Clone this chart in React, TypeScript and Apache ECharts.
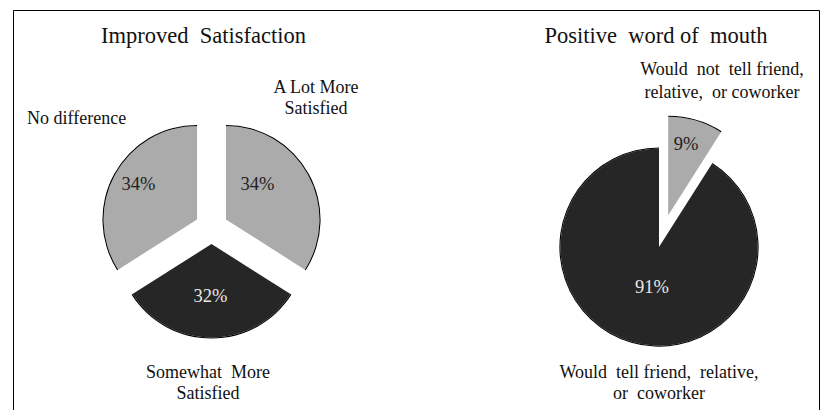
import React, { useEffect, useRef } from "react";
import * as echarts from "echarts";

const satisfactionCategories = ["A Lot More Satisfied", "Somewhat More Satisfied", "No difference"];
const satisfactionValues = [34, 32, 34];
const satisfactionLabels = ["A Lot More\nSatisfied", "Somewhat  More\nSatisfied", "No difference"];

const wordCategories = ["Would not tell friend, relative, or coworker", "Would tell friend, relative, or coworker"];
const wordValues = [9, 91];
const wordLabels = ["Would  not  tell friend,\nrelative,  or coworker", "Would  tell friend,  relative,\nor  coworker"];

const titles = ["Improved  Satisfaction", "Positive  word of  mouth"];

const GRAY = "#ababab";
const DARK = "#262626";
const FONT = "Liberation Serif";

export default function App() {
  const ref = useRef<HTMLDivElement>(null);
  useEffect(() => {
    if (!ref.current) return;
    const chart = echarts.init(ref.current, null, { renderer: "svg" });

    const leftColors = [GRAY, DARK, GRAY];
    const rightColors = [GRAY, DARK];

    const mk = (names: string[], values: number[], colors: string[]) =>
      names.map((n, i) => ({
        name: n,
        value: values[i],
        selected: true,
        itemStyle: { color: colors[i] },
        select: { itemStyle: { color: colors[i] } },
      }));
    const mkRing = (names: string[], values: number[]) =>
      names.map((n, i) => ({
        name: n,
        value: values[i],
        selected: true,
        itemStyle: { color: "#000" },
        select: { itemStyle: { color: "#000" } },
      }));

    const pieBase = {
      type: "pie",
      startAngle: 90,
      clockwise: true,
      selectedMode: "multiple",
      selectedOffset: 16.5,
      label: { show: false },
      labelLine: { show: false },
      silent: true,
      emphasis: { disabled: true, scale: false },
      avoidLabelOverlap: false,
    };

    const text = (t: string, x: number, y: number, size: number, color = "#111", align = "center", lh = 21.5) => ({
      type: "text",
      x,
      y,
      z: 100,
      silent: true,
      style: {
        text: t,
        fill: color,
        fontSize: size,
        fontFamily: FONT,
        align,
        verticalAlign: "middle",
        lineHeight: lh,
      },
    });

    chart.setOption({
      animation: false,
      backgroundColor: "#fff",
      series: [
        { ...pieBase, center: [211.5, 227.5], radius: [0, 93.5], data: mk(satisfactionCategories, satisfactionValues, leftColors) },
        { ...pieBase, center: [211.5, 227.5], radius: [93.5, 94.6], data: mkRing(satisfactionCategories, satisfactionValues) },
        { ...pieBase, center: [663.6, 231.2], radius: [0, 98.5], data: mk(wordCategories, wordValues, rightColors) },
        { ...pieBase, center: [663.6, 231.2], radius: [98.5, 99.6], data: mkRing(wordCategories, wordValues) },
      ],
      graphic: [
        {
          type: "rect",
          silent: true,
          z: 100,
          shape: { x: 13.5, y: 10.5, width: 806, height: 430 },
          style: { fill: "none", stroke: "#000", lineWidth: 1 },
        },
        text(titles[0], 203.5, 35.5, 22.5),
        text(titles[1], 656, 35.5, 22.5),
        text(satisfactionLabels[0], 316, 97.5, 18),
        text(satisfactionLabels[1], 208, 382.5, 18),
        text(satisfactionLabels[2], 27, 118, 18, "#111", "left"),
        text(wordLabels[0], 722, 80.5, 18, "#111", "center", 22.5),
        text(wordLabels[1], 659, 382.5, 18),
        text(`${satisfactionValues[2]}%`, 138.5, 184, 18.5, "#222"),
        text(`${satisfactionValues[0]}%`, 257.5, 184, 18.5, "#222"),
        text(`${satisfactionValues[1]}%`, 210.5, 296, 18.5, "#e8e8e8"),
        text(`${wordValues[0]}%`, 686, 144, 18.5, "#222"),
        text(`${wordValues[1]}%`, 652, 287, 18.5, "#e8e8e8"),
      ],
    });
    return () => chart.dispose();
  }, []);
  return (
    <div
      ref={ref}
      style={{ position: "absolute", left: 0, top: 0, width: 827, height: 410 }}
    />
  );
}
